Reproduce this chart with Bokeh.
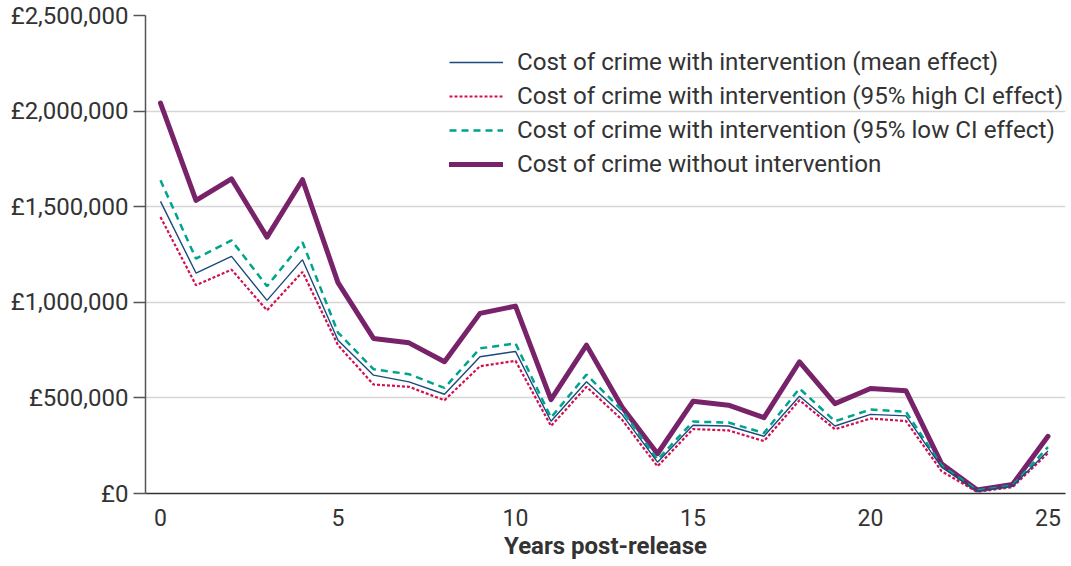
from bokeh.plotting import figure
from bokeh.models import Range1d, FixedTicker, Legend, LegendItem
from bokeh.embed import file_html
from bokeh.resources import INLINE

years = list(range(26))
mean_effect = [1528000, 1153000, 1240000, 1010000, 1223000, 802000, 619000, 584000, 519000, 715000,
               743000, 378000, 584000, 414000, 164000, 357000, 353000, 299000, 509000, 353000,
               414000, 406000, 138000, 12000, 38000, 222000]
high_ci = [1446000, 1089000, 1171000, 958000, 1159000, 776000, 570000, 558000, 488000, 666000,
           694000, 353000, 558000, 386000, 142000, 337000, 330000, 274000, 488000, 336000,
           392000, 379000, 117000, 9000, 33000, 211000]
low_ci = [1638000, 1228000, 1324000, 1084000, 1314000, 842000, 650000, 624000, 552000, 759000,
          785000, 397000, 622000, 435000, 177000, 376000, 371000, 316000, 549000, 378000,
          439000, 427000, 147000, 16000, 42000, 243000]
without = [2042000, 1533000, 1646000, 1341000, 1641000, 1103000, 811000, 788000, 689000, 942000,
           980000, 491000, 776000, 453000, 208000, 482000, 462000, 397000, 689000, 470000,
           549000, 537000, 156000, 19000, 47000, 299000]

series_labels = [
    "Cost of crime with intervention (mean effect)",
    "Cost of crime with intervention (95% high CI effect)",
    "Cost of crime with intervention (95% low CI effect)",
    "Cost of crime without intervention",
]
x_ticks = [0, 5, 10, 15, 20, 25]
y_ticks = [0, 500000, 1000000, 1500000, 2000000, 2500000]
y_tick_labels = ["£0", "£500,000", "£1,000,000", "£1,500,000", "£2,000,000", "£2,500,000"]
x_title = "Years post-release"

FONT = "Roboto"
TXT = "#333333"

p = figure(width=1071, height=566, output_backend="svg", toolbar_location=None,
           x_range=Range1d(-0.4225, 25.493), y_range=Range1d(0, 2500000),
           min_border_left=145, min_border_right=6, min_border_top=15, min_border_bottom=73)
p.outline_line_color = None
p.background_fill_color = "white"
p.border_fill_color = "white"

# grid
p.xgrid.grid_line_color = None
p.ygrid.grid_line_color = "#d6d6d6"
p.ygrid.grid_line_width = 1.5
p.ygrid.ticker = FixedTicker(ticks=y_ticks)

# y axis
p.yaxis.ticker = FixedTicker(ticks=y_ticks)
p.yaxis.major_label_overrides = {v: l for v, l in zip(y_ticks, y_tick_labels)}
p.yaxis.major_tick_out = 12
p.yaxis.major_tick_in = 0
p.yaxis.minor_tick_line_color = None
p.yaxis.axis_line_color = "#555555"
p.yaxis.axis_line_width = 1.5
p.yaxis.major_tick_line_color = "#555555"
p.yaxis.major_tick_line_width = 1.5
p.yaxis.major_label_standoff = 5
p.yaxis.major_label_text_font = FONT
p.yaxis.major_label_text_font_size = "24px"
p.yaxis.major_label_text_color = TXT

# x axis
p.xaxis.ticker = FixedTicker(ticks=x_ticks)
p.xaxis.major_tick_out = 0
p.xaxis.major_tick_in = 0
p.xaxis.minor_tick_line_color = None
p.xaxis.axis_line_color = "#333333"
p.xaxis.axis_line_width = 1.5
p.xaxis.major_label_standoff = 15
p.xaxis.major_label_text_font = FONT
p.xaxis.major_label_text_font_size = "23px"
p.xaxis.major_label_text_color = TXT
p.xaxis.axis_label = x_title
p.xaxis.axis_label_text_font = FONT
p.xaxis.axis_label_text_font_style = "bold"
p.xaxis.axis_label_text_font_size = "24px"
p.xaxis.axis_label_text_color = TXT
p.xaxis.axis_label_standoff = 3

# lines (purple underneath)
r_without = p.line(years, without, line_color="#78226a", line_width=5, line_join="round", line_cap="round")
r_low = p.line(years, low_ci, line_color="#00a38b", line_width=2.5, line_dash="7 5")
r_high = p.line(years, high_ci, line_color="#d1114f", line_width=2.2, line_dash="3 2")
r_mean = p.line(years, mean_effect, line_color="#1a4a80", line_width=1.4)

legend = Legend(items=[
    LegendItem(label=series_labels[0], renderers=[r_mean]),
    LegendItem(label=series_labels[1], renderers=[r_high]),
    LegendItem(label=series_labels[2], renderers=[r_low]),
    LegendItem(label=series_labels[3], renderers=[r_without]),
], location=(304, 314))
legend.padding = 0
legend.margin = 0
legend.spacing = 4
legend.glyph_width = 54
legend.glyph_height = 30
legend.label_height = 30
legend.label_standoff = 14
legend.border_line_alpha = 0
legend.background_fill_alpha = 0
legend.label_text_font = FONT
legend.label_text_font_size = "24.2px"
legend.label_text_color = TXT
p.add_layout(legend)

open("out.html", "w").write(file_html(p, INLINE))
